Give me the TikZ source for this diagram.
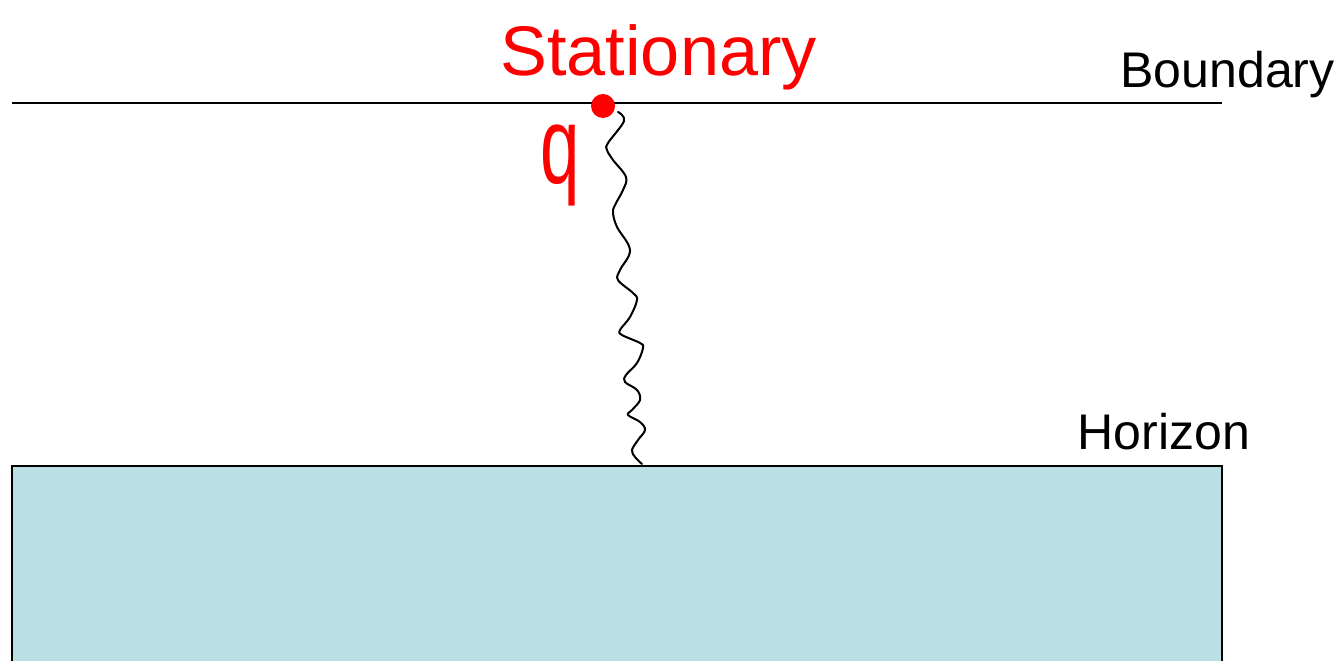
\documentclass[tikz,border=0pt]{standalone}
\usepackage{fontspec}
\setmainfont{Liberation Sans}
\usepackage{tikz}
\usetikzlibrary{positioning,calc}
\definecolor{horizonfill}{HTML}{BBE0E3}
\definecolor{handred}{HTML}{FF0000}
\tikzset{
  lab/.style={font=\fontsize{28.5}{30}\selectfont, inner sep=0pt},
  hand/.style={text=handred, inner sep=0pt},
  wire/.style={line width=1.15pt, line join=round, line cap=round},
}
\begin{document}
\begin{tikzpicture}[x=0.02cm, y=-0.02cm]
    \useasboundingbox (0,0) rectangle (1344,661);
    % horizon region
    \fill[horizonfill] (12,466) rectangle (1222,670);
    \draw[line width=1.2pt] (12,670) -- (12,466) -- (1222,466) -- (1222,670);
    \coordinate (hz) at (642,464);
    % boundary
    \coordinate (bl) at (12,103);
    \coordinate (br) at (1222,103);
    \draw[line width=1pt] (bl) -- (br);
    \node[lab, anchor=base west] (blab) at (1120,88) {Boundary};
    \node[lab, anchor=base west] (hlab) at (1077,450) {Horizon};
    % string from the charge to the horizon
    \node[circle, fill=handred, minimum size=0.48cm, inner sep=0pt] (dot) at (603,106) {};
    \draw[wire] (dot.south east) plot[smooth, tension=0.6] coordinates {
      (618,112) (624,121) (608,143) (607,150) (613,160) (626,177) (623,190)
      (615,205) (613,213) (617,227) (630,250) (620,270) (618,280) (633,293)
      (637,300) (630,317) (620,330) (622,335) (640,343) (643,348) (637,363)
      (626,375) (625,382) (637,390) (640,400) (632,410) (628,415) (640,422)
      (645,430) (638,440) (632,450) (635,457) (hz)};
    \node[hand, anchor=base west, font=\fontsize{40}{42}\selectfont] (stat) at (500,76) {Stationary};
    \node[hand, anchor=base, font=\fontsize{62}{64}\selectfont, xscale=0.65] (q) at (560,184) {q};
\end{tikzpicture}
\end{document}
